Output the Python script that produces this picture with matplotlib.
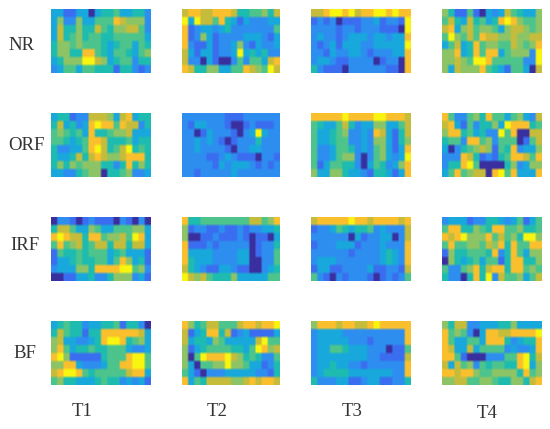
import numpy as np
import matplotlib
matplotlib.use("Agg")
import matplotlib.pyplot as plt
from matplotlib.colors import LinearSegmentedColormap

plt.rcParams['font.family'] = ['Liberation Serif', 'DejaVu Serif']

rows = ["NR", "ORF", "IRF", "BF"]
cols = ["T1", "T2", "T3", "T4"]

NR_T1 = [[3,3,1,1,3,3,0,3,4,4,5,3,3,4,4,2],
         [3,6,2,2,6,3,3,5,5,5,8,7,6,6,6,2],
         [3,7,4,4,6,4,4,7,5,4,6,6,7,7,5,2],
         [3,7,4,5,6,4,5,5,4,4,5,5,5,5,5,3],
         [4,6,6,5,6,5,5,5,4,3,4,5,5,3,5,4],
         [4,6,6,4,4,8,8,5,4,3,5,5,4,3,5,6],
         [3,4,6,6,6,9,9,7,6,3,4,5,5,2,4,4],
         [2,3,5,5,3,5,5,4,4,4,1,4,4,2,1,2]]
NR_T2 = [[7,8,8,7,7,8,8,8,7,4,4,5,5,6,4,7],
         [9,3,9,7,7,5,8,4,3,1,3,2,2,2,3,3],
         [8,1,2,3,3,2,3,4,2,2,2,2,2,2,2,5],
         [8,1,2,6,3,1,2,2,2,2,3,3,3,2,1,3],
         [8,2,1,1,3,1,2,2,3,6,2,1,3,2,2,3],
         [7,3,1,3,3,1,2,2,3,9,3,4,3,4,2,2],
         [7,2,2,0,3,1,0,0,2,5,2,5,5,3,7,8],
         [8,7,4,4,6,6,3,3,5,5,8,7,6,5,9,7]]
NR_T3 = [[7,7,8,9,9,8,9,7,8,8,9,9,8,9,8,8],
         [1,2,1,2,0,1,1,1,2,2,3,1,2,2,1,9],
         [2,2,2,2,1,2,2,1,2,2,2,1,1,1,0,9],
         [2,3,2,2,1,2,3,3,3,2,3,3,2,3,3,8],
         [2,1,2,3,1,3,3,3,2,2,3,3,3,3,3,9],
         [2,2,1,3,2,2,3,3,2,1,2,2,2,3,3,8],
         [2,3,3,2,1,1,2,2,2,2,0,1,2,2,0,8],
         [4,2,1,1,1,0,2,2,2,2,2,2,1,1,0,8]]
NR_T4 = [[6,4,1,1,5,1,0,3,2,3,7,5,4,3,3,6],
         [5,7,4,3,7,4,5,3,4,8,9,8,6,5,5,6],
         [7,8,3,6,7,5,6,6,5,3,6,7,7,6,5,6],
         [5,9,6,5,7,5,8,7,7,6,6,7,6,6,7,7],
         [3,5,7,3,4,8,5,6,6,5,5,7,6,5,6,8],
         [6,6,8,3,4,8,5,8,8,3,5,6,6,6,2,9],
         [6,6,7,6,5,9,9,8,5,5,5,5,5,2,2,9],
         [6,3,7,6,6,6,8,5,4,3,1,5,5,3,0,7]]

ORF_T1 = [[3,4,4,1,2,2,7,7,7,6,3,7,8,3,4,4],
          [4,7,3,4,2,3,8,9,8,8,5,8,7,7,2,4],
          [5,6,5,4,5,3,8,4,4,5,6,6,7,3,3,3],
          [5,5,4,3,4,5,8,8,7,4,4,4,5,3,4,4],
          [4,2,2,3,3,5,8,9,7,4,5,7,9,4,5,4],
          [4,3,3,4,7,4,7,8,7,6,6,7,8,8,8,4],
          [4,6,4,6,5,6,6,6,4,4,2,4,8,4,6,4],
          [3,3,2,2,4,5,6,6,0,4,4,5,6,2,2,3]]
ORF_T2 = [[2,2,2,2,2,2,2,1,1,1,2,2,2,2,2,2],
          [2,1,3,3,2,2,2,1,0,0,1,2,1,1,1,2],
          [2,2,0,1,3,2,2,2,1,0,2,3,9,3,2,2],
          [2,2,3,2,3,2,1,0,1,2,2,2,4,2,2,2],
          [2,2,3,2,2,2,2,1,0,2,2,3,3,2,2,2],
          [2,2,2,2,1,1,2,3,2,1,1,1,0,2,2,1],
          [2,2,2,2,2,1,3,2,3,3,3,2,1,2,1,2],
          [2,2,1,2,2,2,2,2,3,2,2,2,2,2,2,2]]
ORF_T3 = [[8,8,8,8,8,9,8,8,8,8,9,9,8,8,8,7],
          [5,4,3,3,5,7,4,2,3,3,6,6,3,3,5,7],
          [5,3,3,4,5,6,2,2,3,2,8,7,3,1,4,7],
          [5,3,3,4,5,5,2,2,3,2,6,6,3,1,4,6],
          [5,2,2,3,5,5,4,2,3,2,5,6,3,1,3,8],
          [5,2,2,3,5,6,6,2,0,2,5,6,3,2,3,9],
          [5,1,3,5,5,4,4,2,0,3,5,4,2,3,6,8],
          [6,3,3,6,6,4,3,3,2,1,4,4,3,1,3,8]]
ORF_T4 = [[8,5,2,2,5,6,4,8,5,5,3,5,6,3,2,7],
          [7,8,3,1,5,2,4,4,6,3,9,8,8,8,4,5],
          [6,8,8,4,5,3,4,2,2,9,5,8,0,0,7,7],
          [4,5,5,2,8,8,5,6,2,5,5,5,0,1,5,7],
          [3,0,2,4,5,6,7,6,1,5,4,8,2,3,3,6],
          [2,2,2,8,7,4,1,2,1,4,5,8,8,7,5,8],
          [2,4,4,8,9,5,0,0,0,0,4,6,2,3,6,6],
          [3,5,8,5,6,7,7,0,8,9,5,8,3,3,3,8]]

IRF_T1 = [[0,2,2,1,0,1,2,1,1,1,0,2,1,0,2,0],
          [4,7,7,5,3,3,6,5,3,3,5,5,5,6,6,3],
          [8,9,8,7,7,4,8,8,5,6,6,7,5,9,8,3],
          [5,8,5,6,7,4,5,7,7,4,7,7,4,7,7,3],
          [1,5,4,4,5,4,5,5,5,3,4,5,3,3,3,1],
          [1,3,3,4,5,4,4,5,5,3,5,8,6,3,4,1],
          [2,3,3,3,6,6,4,8,8,8,8,9,9,5,6,2],
          [0,0,1,1,3,3,4,2,2,4,6,6,6,2,3,1]]
IRF_T2 = [[8,4,4,5,5,5,5,5,5,5,5,7,7,5,6,8],
          [6,1,2,2,1,1,2,1,1,2,1,2,2,3,3,4],
          [6,0,0,1,1,2,1,1,1,2,1,0,1,1,0,3],
          [8,1,1,1,2,1,2,2,2,2,2,0,1,2,2,4],
          [8,3,3,3,3,2,2,2,2,3,3,0,1,2,2,5],
          [8,4,3,3,3,2,2,2,2,3,3,0,0,2,2,5],
          [7,4,3,2,1,1,3,3,2,1,1,0,0,2,3,4],
          [9,7,6,7,5,4,4,4,6,3,3,3,3,3,5,5]]
IRF_T3 = [[7,8,8,8,8,8,9,8,8,7,8,8,8,8,7,8],
          [1,2,2,3,5,4,3,4,4,5,2,3,2,2,2,7],
          [2,2,2,2,2,2,0,3,1,2,2,3,3,0,2,7],
          [1,2,2,2,3,3,3,1,2,2,2,3,2,2,2,8],
          [2,2,2,2,2,2,1,2,2,2,2,3,4,3,2,8],
          [2,3,3,3,2,2,2,2,2,2,2,3,4,3,2,8],
          [1,3,3,1,1,2,2,2,2,3,1,1,2,2,1,7],
          [5,2,1,0,2,1,2,2,2,1,0,1,2,1,2,5]]
IRF_T4 = [[2,3,3,3,1,2,2,4,4,3,2,3,5,1,3,5],
          [5,8,8,4,4,6,5,4,8,8,5,5,6,4,4,5],
          [8,7,8,9,6,6,6,8,5,7,5,6,4,9,9,6],
          [5,8,5,5,6,6,5,7,6,8,4,8,5,5,8,8],
          [1,6,4,4,5,5,5,4,8,2,4,8,5,3,6,6],
          [0,6,4,3,4,5,3,5,5,1,4,8,8,4,4,6],
          [5,2,2,5,6,8,4,7,8,8,4,8,8,5,6,5],
          [4,2,2,0,4,8,4,9,2,7,5,5,6,3,5,7]]

BF_T1 = [[3,4,5,4,4,2,3,3,4,4,5,1,4,4,2,0],
         [4,7,5,4,4,1,4,4,8,8,8,8,8,8,7,3],
         [6,7,3,3,2,2,3,4,8,9,9,8,4,5,6,3],
         [6,8,5,3,4,4,5,4,4,5,5,5,3,2,2,3],
         [8,9,6,1,1,1,1,1,4,5,5,5,8,9,9,5],
         [6,6,8,8,3,2,2,2,3,5,5,8,8,9,9,5],
         [7,8,9,9,8,5,4,5,5,5,5,5,7,8,8,3],
         [5,6,4,4,3,3,3,4,5,4,4,2,3,2,3,1]]
BF_T2 = [[8,6,4,5,7,7,5,5,5,7,8,8,7,8,8,9],
         [7,1,3,4,8,8,4,7,1,2,3,1,1,1,1,3],
         [7,3,4,4,3,6,5,3,3,3,3,3,7,9,5,5],
         [6,1,3,4,5,5,5,5,4,4,3,5,9,8,6,7],
         [6,0,5,9,8,8,8,9,7,6,4,5,4,2,2,5],
         [6,3,0,5,5,6,6,9,6,6,5,3,3,1,2,4],
         [5,3,1,0,2,2,2,3,3,3,3,3,2,2,1,4],
         [8,3,5,4,7,7,7,7,6,6,7,8,7,8,8,7]]
BF_T3 = [[6,8,8,8,7,8,8,7,7,8,9,8,8,8,8,8],
         [2,3,3,3,3,2,2,2,2,2,2,2,2,2,2,8],
         [2,3,3,3,3,3,2,2,2,1,2,2,2,2,2,8],
         [2,3,3,5,5,4,3,3,3,2,2,2,0,1,1,5],
         [2,3,3,3,3,3,3,3,3,2,2,1,1,1,1,7],
         [2,3,3,4,3,3,2,2,1,2,2,2,2,2,2,8],
         [2,3,4,4,4,4,3,3,3,3,3,3,3,2,2,8],
         [4,2,2,2,3,3,1,1,2,3,3,1,1,2,2,4]]
BF_T4 = [[6,4,7,7,2,2,3,3,3,4,4,6,3,3,3,3],
         [8,5,6,5,2,0,3,8,8,7,7,8,8,8,8,9],
         [8,5,3,3,5,5,3,8,8,8,4,2,3,4,4,8],
         [8,7,3,3,7,3,5,5,5,5,2,3,2,2,3,8],
         [8,8,5,1,0,0,0,2,2,2,5,5,8,9,4,7],
         [7,3,7,5,6,2,5,4,5,5,4,4,8,9,3,6],
         [8,8,7,8,8,6,5,5,6,6,6,6,4,8,5,6],
         [6,6,7,7,5,5,6,6,5,4,4,6,6,4,7,8]]

panels = [[NR_T1, NR_T2, NR_T3, NR_T4],
          [ORF_T1, ORF_T2, ORF_T3, ORF_T4],
          [IRF_T1, IRF_T2, IRF_T3, IRF_T4],
          [BF_T1, BF_T2, BF_T3, BF_T4]]

# parula-like colours, one per level
level_colors = ["#3a2f9e", "#3a6ef0", "#2d8ff0", "#18a8dc", "#1fbcb0",
                "#4cc48c", "#8cc466", "#c4bc3c", "#fbbf2e", "#f8f510"]
cmap = LinearSegmentedColormap.from_list("parula_ish", level_colors)

W, H = 550, 429
x_edges = [(51, 150.7), (181.7, 279.7), (311, 410.7), (441.7, 541)]
y_edges = [(9.3, 73), (113.3, 177), (217, 281), (320.7, 384.7)]
row_label_x = [8, 8, 10, 13]
row_label_y = [46, 146, 246, 354]
col_label_x = [82, 216.7, 352, 487]
col_label_y = [412, 412, 412, 414]
text_color = "#333333"

fig = plt.figure(figsize=(W / 100, H / 100), dpi=100)

for i, (y0, y1) in enumerate(y_edges):
    for j, (x0, x1) in enumerate(x_edges):
        ax = fig.add_axes([x0 / W, 1 - y1 / H, (x1 - x0) / W, (y1 - y0) / H])
        # repeat the cells so the bilinear filter only softens their edges
        data = np.repeat(np.repeat(np.array(panels[i][j]), 3, axis=0), 3, axis=1)
        ax.imshow(data, cmap=cmap, vmin=0, vmax=9, aspect="auto",
                  interpolation="bilinear", interpolation_stage="rgba")
        ax.axis("off")
    fig.text(row_label_x[i] / W, 1 - row_label_y[i] / H, rows[i], fontsize=13.5,
             ha="left", va="center", color=text_color)

for j, label in enumerate(cols):
    fig.text(col_label_x[j] / W, 1 - col_label_y[j] / H, label, fontsize=13.5,
             ha="center", va="center", color=text_color)

fig.savefig("out.png", dpi=100)
